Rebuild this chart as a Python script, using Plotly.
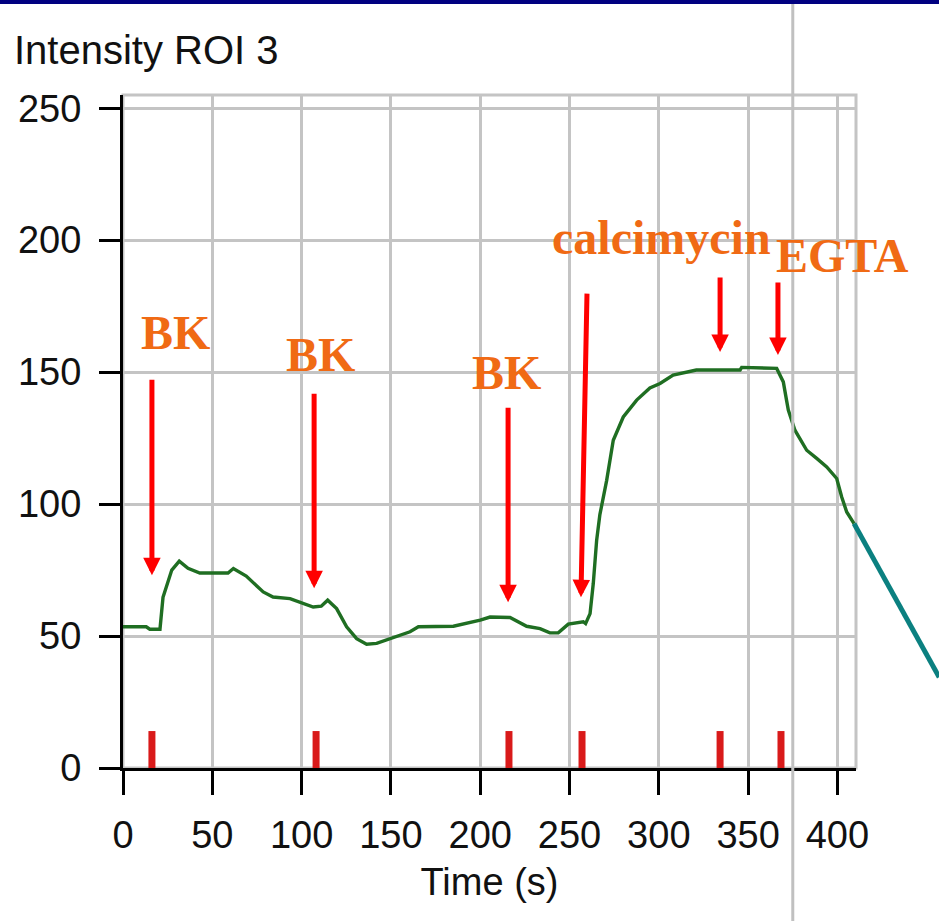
import plotly.graph_objects as go

# Fluorescence intensity trace for ROI 3
time_s = [0, 13, 15, 20.7, 22.4, 27.3, 31.5, 36.4, 43, 58.8, 61.8, 69, 78.5, 84,
          93.5, 106.5, 111, 114.6, 119.6, 125.2, 130.8, 136.4, 142, 151.4, 160.7,
          165.4, 185, 200, 205.5, 216.7, 226, 233.5, 239, 243.7, 249.3, 257.7, 259,
          261.5, 263.3, 265.2, 267, 270.8, 274.5, 280.1, 287.6, 295, 300.7, 308,
          321, 345.5, 346.4, 366, 369.7, 371.5, 372.5, 376.2, 382.8, 388.4, 394,
          399.6, 402.4, 405.2, 409.3]
intensity = [53.5, 53.5, 52.6, 52.6, 64.7, 75, 78.4, 75.7, 73.9, 73.9, 75.6, 72.7,
             66.7, 64.8, 64.2, 61, 61.3, 63.6, 60.4, 53.5, 49, 46.9, 47.2, 49.4,
             51.6, 53.5, 53.7, 56, 57.2, 57, 53.7, 52.8, 51.2, 51.2, 54.5, 55.4,
             54.7, 58.5, 69.9, 86.3, 96, 109, 124.2, 133, 139.4, 144, 145.7, 148.9,
             150.8, 150.8, 151.8, 151.4, 146.3, 139.4, 135.6, 128, 120.4, 117.3,
             114.1, 109.7, 102.7, 97, 92.6]

# Event markers (time of each addition) and the bar height drawn at the bottom
event_times = [16.2, 108.1, 216.1, 257, 334.3, 368.4]
event_bar_height = 14

# Labelled arrows: label, label position, arrow tail and tip
labels = ["BK", "BK", "BK", "calcimycin", "EGTA"]
label_x = [29.5, 110.5, 214.5, 301.5, 403]
label_y = [165, 156.5, 150, 201, 194]
arrow_tail_x = [16.2, 107, 215.6, 259.8, 334.3, 366.7]
arrow_tail_y = [147.7, 142.4, 137.1, 180.3, 186.4, 184.5]
arrow_tip_x = [16.2, 107, 215.6, 256.4, 334.3, 366.7]
arrow_tip_y = [73, 68.1, 62.8, 64.7, 157.6, 156.5]

x_ticks = [0, 50, 100, 150, 200, 250, 300, 350, 400]
y_ticks = [0, 50, 100, 150, 200, 250]
X_RANGE = [0, 410.4]
Y_RANGE = [0, 255]

# Continuation line leaving the plot and a guide line crossing the page
exit_end = (457, 34.4)
guide_x = 375

def xp(v):
    return (v - X_RANGE[0]) / (X_RANGE[1] - X_RANGE[0])

def yp(v):
    return (v - Y_RANGE[0]) / (Y_RANGE[1] - Y_RANGE[0])

fig = go.Figure()

# red event bars
bx, by = [], []
for t in event_times:
    bx += [t, t, None]
    by += [0, event_bar_height, None]
fig.add_trace(go.Scatter(x=bx, y=by, mode="lines",
                         line=dict(color="#d91a1a", width=7),
                         hoverinfo="skip", showlegend=False))

fig.add_trace(go.Scatter(x=time_s, y=intensity, mode="lines",
                         line=dict(color="#1f6e22", width=3.4),
                         showlegend=False))

label_font = dict(family="Liberation Serif, Times New Roman, serif",
                  size=48, color="#f06a14")
annotations = []
for txt, lx, ly in zip(labels, label_x, label_y):
    annotations.append(dict(x=lx, y=ly, xref="x", yref="y", text="<b>%s</b>" % txt,
                            showarrow=False, font=label_font,
                            xanchor="center", yanchor="middle"))
for tx, ty, hx, hy in zip(arrow_tail_x, arrow_tail_y, arrow_tip_x, arrow_tip_y):
    annotations.append(dict(x=hx, y=hy, ax=tx, ay=ty, xref="x", yref="y",
                            axref="x", ayref="y", text="", showarrow=True,
                            arrowhead=2, arrowsize=0.7, arrowwidth=5,
                            arrowcolor="#ff0000", standoff=0))

shapes = [
    # grey frame on top and right of the plot area
    dict(type="rect", xref="paper", yref="paper", x0=0, x1=1, y0=0, y1=1,
         line=dict(color="#c4c4c4", width=3), layer="below"),
    # guide line across the whole page
    dict(type="line", xref="paper", yref="paper", x0=xp(guide_x), x1=xp(guide_x),
         y0=-0.5, y1=1.5, line=dict(color="#c0c0c0", width=3)),
    # continuation of the trace past the plot edge
    dict(type="line", xref="paper", yref="paper",
         x0=xp(time_s[-1]), y0=yp(intensity[-1]),
         x1=xp(exit_end[0]), y1=yp(exit_end[1]),
         line=dict(color="#0b8080", width=5)),
    # navy band along the top of the page
    dict(type="rect", xref="paper", yref="paper", ysizemode="pixel", yanchor=1,
         x0=-0.5, x1=1.5, y0=91, y1=110, fillcolor="#000080",
         line=dict(width=0)),
]

tick_font = dict(family="Liberation Sans, Arial, sans-serif", size=38, color="#111111")

fig.update_layout(
    width=939, height=921,
    margin=dict(l=123, r=83, t=95, b=153),
    paper_bgcolor="white", plot_bgcolor="white",
    title=dict(text="Intensity ROI 3", font=dict(family="Liberation Sans, Arial, sans-serif",
                                                 size=40, color="#111111"),
               xref="container", yref="container", x=14 / 939, xanchor="left",
               y=1 - 50 / 921, yanchor="middle"),
    xaxis=dict(range=X_RANGE, tickvals=x_ticks, showgrid=True, gridcolor="#c4c4c4",
               gridwidth=3, zeroline=False, showline=True, linecolor="black",
               linewidth=3, ticks="outside", ticklen=24, tickwidth=3,
               tickcolor="black", tickfont=tick_font, ticklabelstandoff=7,
               title=dict(text="Time (s)", font=tick_font, standoff=14)),
    yaxis=dict(range=Y_RANGE, tickvals=y_ticks, showgrid=True, gridcolor="#c4c4c4",
               gridwidth=3, zeroline=False, showline=True, linecolor="black",
               linewidth=3, ticks="outside", ticklen=21, tickwidth=3,
               tickcolor="black", tickfont=tick_font, ticklabelstandoff=10),
    annotations=annotations,
    shapes=shapes,
)

fig.write_html("out.html")
